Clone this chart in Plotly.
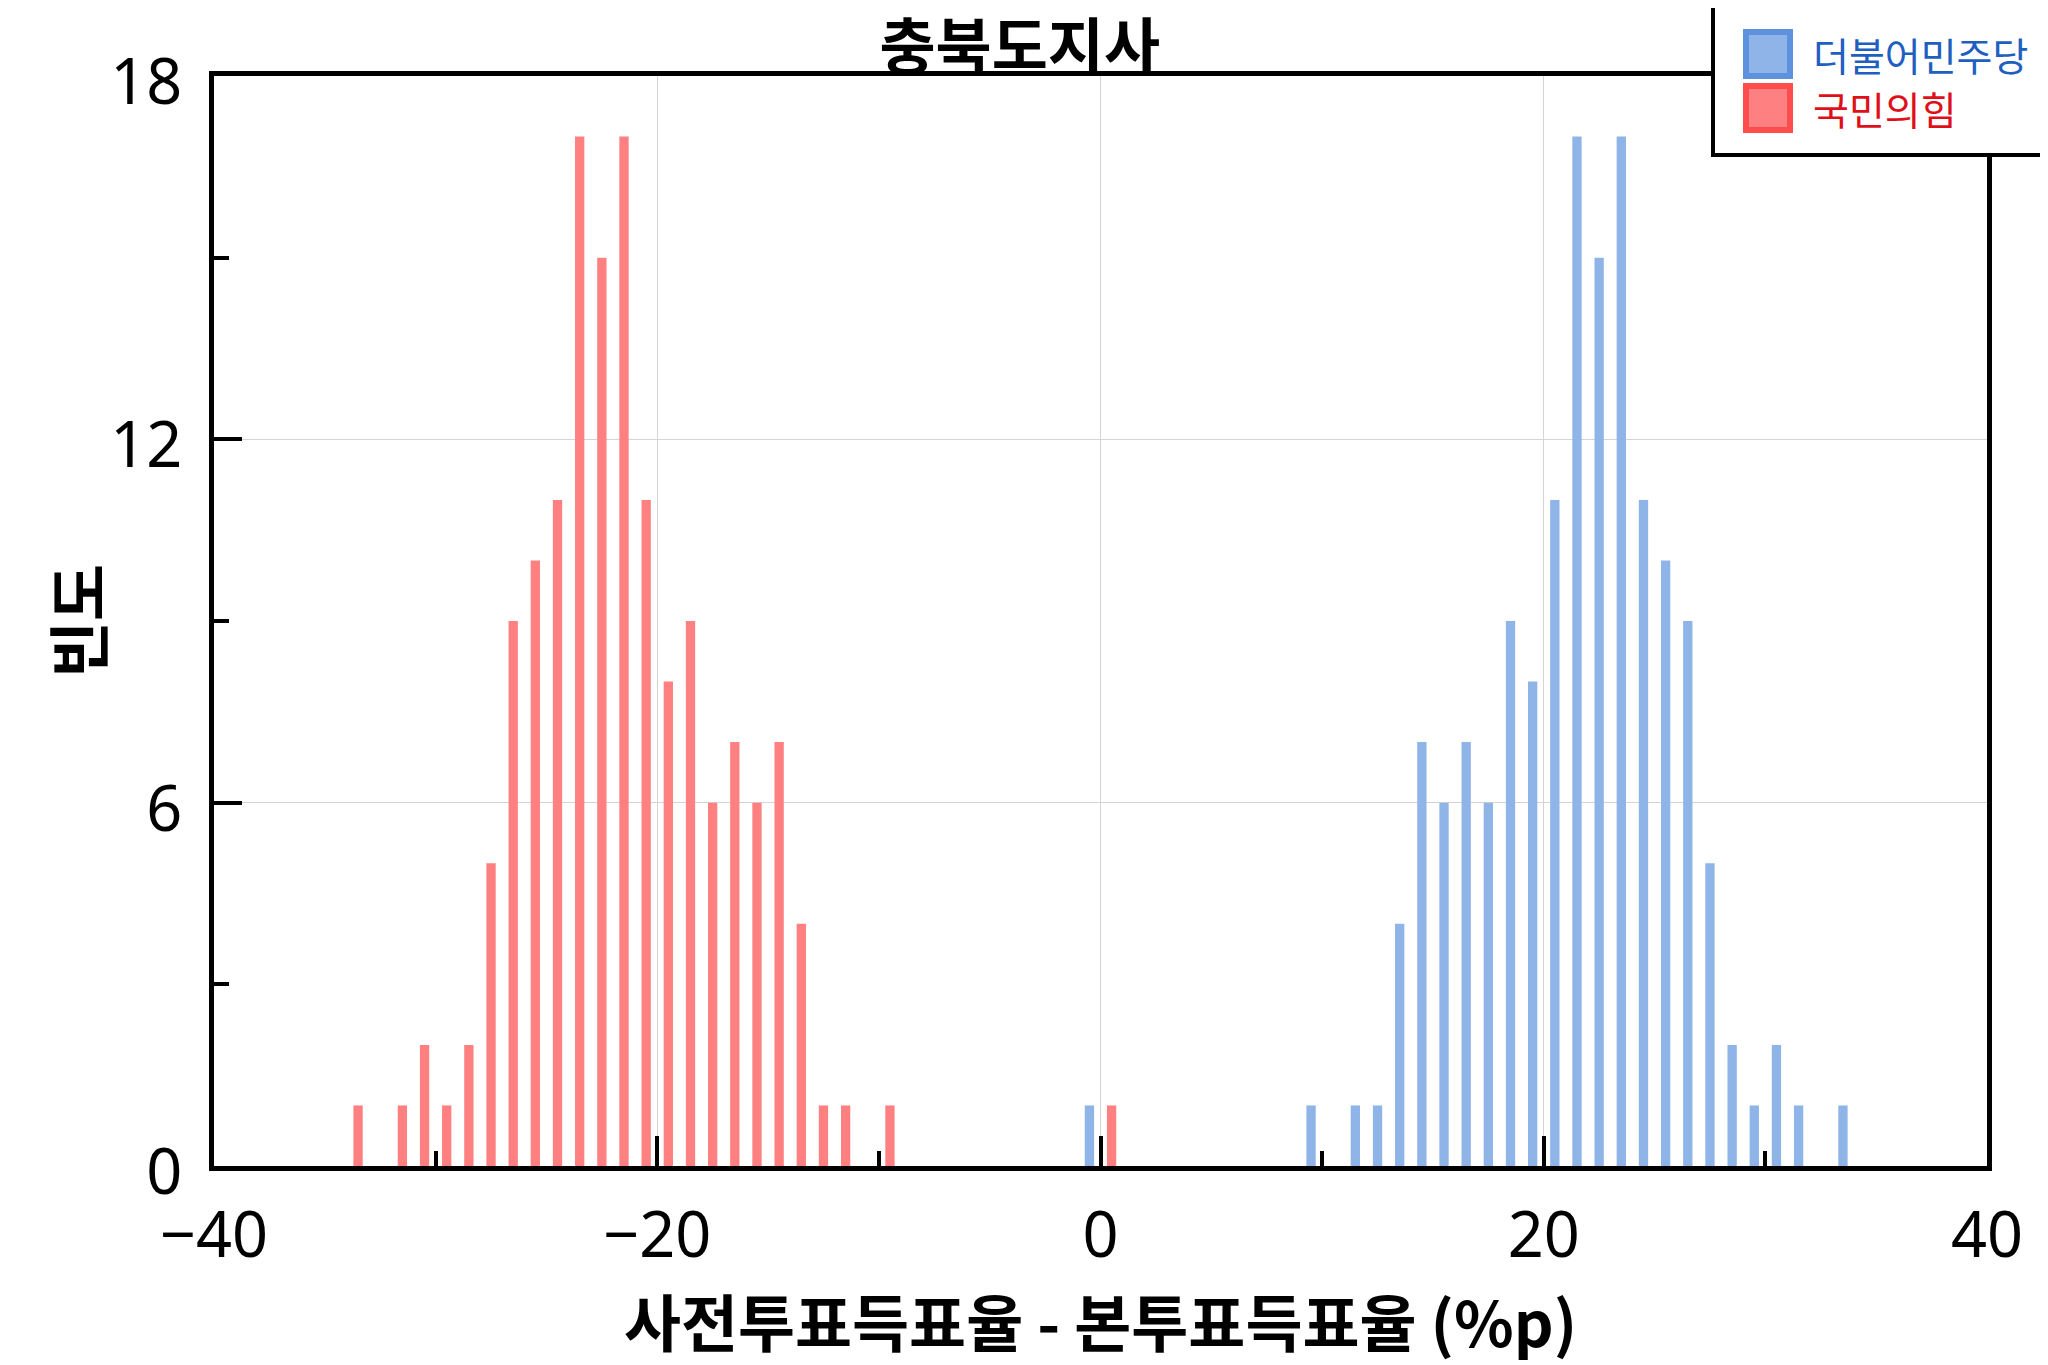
import plotly.graph_objects as go

# histogram bins (bin centre, %p) and frequencies
dem_x = [-0.5, 9.5, 11.5, 12.5, 13.5, 14.5, 15.5, 16.5, 17.5, 18.5, 19.5, 20.5,
         21.5, 22.5, 23.5, 24.5, 25.5, 26.5, 27.5, 28.5, 29.5, 30.5, 31.5, 33.5]
dem_count = [1, 1, 1, 1, 4, 7, 6, 7, 6, 9, 8, 11,
             17, 15, 17, 11, 10, 9, 5, 2, 1, 2, 1, 1]

ppp_x = [-33.5, -31.5, -30.5, -29.5, -28.5, -27.5, -26.5, -25.5, -24.5, -23.5, -22.5, -21.5,
         -20.5, -19.5, -18.5, -17.5, -16.5, -15.5, -14.5, -13.5, -12.5, -11.5, -9.5, 0.5]
ppp_count = [1, 1, 2, 1, 2, 5, 9, 10, 11, 17, 15, 17,
             11, 8, 9, 6, 7, 6, 7, 4, 1, 1, 1, 1]

party_names = ["더불어민주당", "국민의힘"]
x_ticks = [-40, -20, 0, 20, 40]
y_ticks = [0, 6, 12, 18]

W, H = 2048, 1365
L, R, T, B = 206, 69, 68, 207
pw, ph = W - L - R, H - T - B

def px(x):
    return (x - L) / pw

def py(y):
    return (H - B - y) / ph

BLUE = "#8fb4e8"
RED = "#ff8080"

fig = go.Figure()
fig.add_trace(go.Bar(x=dem_x, y=dem_count, width=0.42, marker=dict(color=BLUE, line=dict(width=0)),
                     name=party_names[0], showlegend=False))
fig.add_trace(go.Bar(x=ppp_x, y=ppp_count, width=0.42, marker=dict(color=RED, line=dict(width=0)),
                     name=party_names[1], showlegend=False))

tickfont = dict(family="Noto Sans, Noto Sans CJK KR", size=63, color="black")
labfont = dict(family="Noto Sans CJK KR", size=62, color="black", weight="bold")

fig.update_layout(
    width=W, height=H,
    margin=dict(l=L, r=R, t=T, b=B, autoexpand=False),
    paper_bgcolor="white", plot_bgcolor="white",
    barmode="overlay",
    title=dict(text="충북도지사", x=0.494, xref="container", xanchor="center",
               y=1 - 40 / H, yref="container", yanchor="middle",
               font=dict(family="Noto Sans CJK KR", size=61, color="black", weight="bold")),
    xaxis=dict(range=[-40, 40], tickvals=x_ticks, ticks="inside", ticklen=30, tickwidth=4,
               tickcolor="black", tickfont=tickfont, ticklabelstandoff=10,
               minor=dict(dtick=10, tick0=-40, ticks="inside", ticklen=15, tickwidth=4,
                          tickcolor="black", showgrid=False),
               showline=True, mirror=True, linewidth=5, linecolor="black",
               showgrid=True, gridcolor="#d4d4d4", gridwidth=1, zeroline=False,
               title=dict(text="사전투표득표율 - 본투표득표율 (%p)", font=labfont, standoff=24)),
    yaxis=dict(range=[0, 18], tickvals=y_ticks, ticks="inside", ticklen=28, tickwidth=4,
               tickcolor="black", tickfont=tickfont, ticklabelstandoff=14, ticklabelshift=6,
               minor=dict(dtick=3, tick0=0, ticks="inside", ticklen=15, tickwidth=4,
                          tickcolor="black", showgrid=False),
               showline=True, mirror=True, linewidth=5, linecolor="black",
               showgrid=True, gridcolor="#d4d4d4", gridwidth=1, zeroline=False),
)

# y-axis title placed by hand (closer to the tick labels than plotly's standoff allows)
fig.add_annotation(xref="paper", yref="paper", x=px(68), y=0.5, xanchor="center", yanchor="middle",
                   textangle=-90, showarrow=False, text="빈도", font=labfont)

# legend box drawn by hand so the patches can be large
fig.add_shape(type="rect", xref="paper", yref="paper", layer="above",
              x0=px(1705), x1=px(2046), y0=py(147), y1=py(-2),
              fillcolor="white", line=dict(color="black", width=4))
legend_rows = [(BLUE, "#5f92dd", "#1f5fbf", 46), (RED, "#ff4d4d", "#e0101a", 100)]
for (fill, edge, txt, yc), name in zip(legend_rows, party_names):
    fig.add_shape(type="rect", xref="paper", yref="paper", layer="above",
                  x0=px(1738), x1=px(1782), y0=py(yc + 22), y1=py(yc - 22),
                  fillcolor=fill, line=dict(color=edge, width=6))
    fig.add_annotation(xref="paper", yref="paper", x=px(1803), y=py(yc), xanchor="left",
                       yanchor="middle", showarrow=False, text=name,
                       font=dict(family="Noto Sans CJK KR", size=39, color=txt))

fig.write_html("out.html")
